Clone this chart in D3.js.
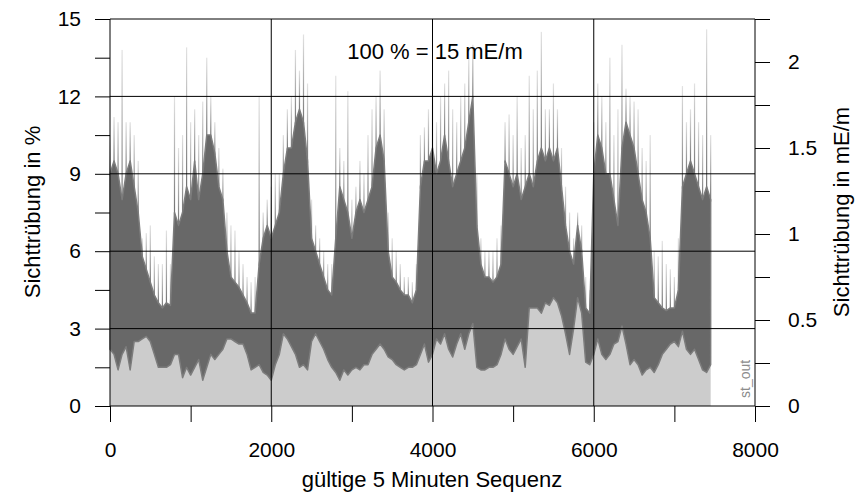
<!DOCTYPE html>
<html>
<head>
<meta charset="utf-8">
<script src="https://cdn.jsdelivr.net/npm/d3@7"></script>
<style>
  html, body { margin: 0; padding: 0; background: #fff; }
  svg { display: block; font-family: "Liberation Sans", Arial, sans-serif; }
</style>
</head>
<body>
<svg id="chart" width="858" height="498"></svg>
<script>
// Visibility obscuration (st_out), summarised in blocks of 50 valid 5-minute samples:
// lower envelope, upper envelope of the dense band, and the single highest spike.
const blockSize = 50;
const lowEnv = [
  2.2, 2.0, 1.4, 2.0, 2.3, 1.4, 2.5, 2.5, 2.6, 2.7,
  2.5, 2.0, 1.5, 1.5, 1.5, 1.6, 2.0, 2.0, 1.1, 1.5,
  1.2, 1.5, 1.8, 1.0, 1.5, 2.0, 1.8, 2.0, 2.2, 2.6,
  2.6, 2.5, 2.4, 2.4, 2.0, 1.4, 1.5, 1.6, 1.3, 1.2,
  1.0, 1.6, 2.0, 2.8, 2.6, 2.3, 2.0, 1.5, 1.6, 1.4,
  2.5, 2.8, 2.5, 2.2, 1.8, 1.5, 1.3, 1.0, 1.4, 1.2,
  1.4, 1.5, 1.4, 1.6, 1.6, 2.0, 2.2, 2.4, 2.2, 1.9,
  1.8, 1.6, 1.5, 1.4, 1.5, 1.5, 1.6, 2.0, 2.4, 1.7,
  2.0, 2.6, 2.4, 2.8, 2.2, 1.9, 2.4, 2.8, 2.2, 2.8,
  3.2, 1.5, 1.4, 1.4, 1.5, 1.5, 1.6, 2.0, 2.6, 2.2,
  2.0, 2.3, 2.6, 1.5, 3.8, 3.8, 3.8, 3.6, 4.0, 3.9,
  4.2, 4.0, 3.5, 2.8, 2.0, 3.0, 4.2, 3.6, 1.7, 1.6,
  2.0, 2.6, 2.0, 1.8, 2.0, 2.4, 2.5, 3.1, 2.4, 1.6,
  1.8, 1.6, 1.2, 1.4, 1.5, 1.3, 1.6, 2.0, 2.2, 2.4,
  2.5, 2.3, 2.9, 2.2, 2.0, 2.2, 1.8, 1.4, 1.3, 1.6
];
const highEnv = [
  9.0, 9.5, 9.0, 8.0, 9.0, 9.5, 8.5, 7.5, 5.8, 5.3,
  4.8, 4.3, 4.0, 3.8, 4.0, 3.9, 7.5, 7.0, 7.5, 8.5,
  8.0, 9.5, 8.0, 9.0, 10.5, 10.5, 9.8, 8.5, 8.0, 6.0,
  5.0, 4.8, 4.6, 4.3, 4.0, 3.6, 3.6, 5.5, 6.5, 7.0,
  6.5, 7.0, 7.5, 9.0, 10.0, 10.0, 11.0, 11.5, 11.0, 9.5,
  6.5, 6.0, 5.5, 5.0, 4.5, 4.3, 6.5, 8.5, 8.0, 7.5,
  6.5, 7.5, 8.0, 7.5, 8.0, 8.5, 10.0, 10.5, 9.5, 6.0,
  5.0, 4.8, 4.5, 4.3, 4.3, 4.0, 4.5, 8.5, 9.5, 9.5,
  10.0, 9.0, 9.5, 10.5, 9.5, 8.5, 9.0, 9.5, 10.0, 11.0,
  12.0, 7.0, 5.5, 5.0, 5.0, 4.8, 5.0, 5.5, 9.5, 9.0,
  8.5, 9.0, 8.0, 8.5, 9.0, 8.5, 9.5, 10.0, 9.5, 10.0,
  9.5, 10.0, 8.5, 7.0, 6.0, 5.5, 7.0, 6.0, 3.8, 3.6,
  9.0, 10.5, 10.0, 9.0, 9.0, 8.0, 7.0, 10.0, 11.0, 10.5,
  10.0, 9.0, 8.0, 7.5, 6.5, 4.2, 4.0, 3.8, 3.7, 3.8,
  3.8, 4.5, 8.5, 9.0, 9.5, 9.0, 8.5, 8.0, 8.5, 8.0
];
const peakEnv = [
  10.5, 11.2, 11.0, 13.8, 11.0, 11.0, 10.5, 9.5, 6.5, 6.7,
  7.0, 5.8, 5.5, 5.5, 6.8, 5.5, 12.0, 10.0, 10.5, 13.9,
  11.0, 11.5, 10.5, 11.8, 13.5, 12.0, 11.0, 10.0, 9.2, 7.5,
  7.0, 6.8, 6.0, 5.5, 5.0, 4.8, 5.0, 12.0, 7.5, 8.0,
  8.5, 9.0, 9.0, 10.5, 11.5, 12.0, 13.8, 13.0, 14.4, 12.5,
  8.0, 7.0, 6.5, 6.0, 5.5, 5.5, 12.8, 10.0, 9.5, 12.2,
  8.0, 8.5, 9.5, 9.0, 10.5, 11.5, 12.0, 13.0, 11.5, 7.5,
  6.5, 6.0, 5.5, 5.0, 5.0, 4.8, 5.5, 10.5, 10.8, 11.5,
  12.5, 11.0, 12.0, 12.5, 13.0, 11.5, 11.0, 12.0, 12.5, 13.5,
  14.0, 9.0, 6.5, 6.0, 6.0, 6.0, 6.5, 7.0, 11.0, 11.3,
  10.5, 12.0, 10.0, 10.5, 12.8, 11.5, 13.0, 14.5, 11.5, 11.5,
  12.5, 11.5, 10.0, 8.5, 7.5, 6.5, 7.5, 7.0, 5.0, 4.5,
  11.0, 12.5, 12.0, 11.0, 13.5, 10.5, 11.5, 14.0, 12.3, 12.0,
  11.8, 11.5, 10.0, 9.5, 10.5, 6.0, 5.8, 6.4, 5.5, 5.3,
  5.0, 6.5, 12.4, 11.0, 11.5, 12.5, 11.0, 10.5, 14.6, 10.5
];

// Axis ticks
const xMajorTicks = [0, 2000, 4000, 6000, 8000];
const xAllTicks = [0, 1000, 2000, 3000, 4000, 5000, 6000, 7000, 8000];
const yMajorTicks = [0, 3, 6, 9, 12, 15];
const yAllTicks = [0, 1.5, 3, 4.5, 6, 7.5, 9, 10.5, 12, 13.5, 15];
const rMajorTicks = [0, 0.5, 1, 1.5, 2];
const rAllTicks = [0, 0.25, 0.5, 0.75, 1, 1.25, 1.5, 1.75, 2, 2.25];

const fullScalePercent = 15;   // 100 % = 15 mE/m -> 15 % = 2.25 mE/m

const series = lowEnv.map((lo, i) => ({
  n: i * blockSize, lo, hi: highEnv[i], pk: peakEnv[i]
}));

const svg = d3.select("#chart");
const plotL = 110, plotR = 755, plotT = 19, plotB = 406;

const x = d3.scaleLinear().domain([0, 8000]).range([plotL, plotR]);
const y = d3.scaleLinear().domain([0, 15]).range([plotB, plotT]);
const yR = d3.scaleLinear().domain([0, fullScalePercent * 15 / 100]).range([plotB, plotT]);

// fading fill for the spikes: darker at the band, pale at the tip
const defs = svg.append("defs");
const fade = defs.append("linearGradient")
  .attr("id", "spikeFade")
  .attr("x1", 0).attr("y1", 1).attr("x2", 0).attr("y2", 0);
fade.append("stop").attr("offset", "0%").attr("stop-color", "#707070");
fade.append("stop").attr("offset", "45%").attr("stop-color", "#a8a8a8");
fade.append("stop").attr("offset", "100%").attr("stop-color", "#e2e2e2");

// light grey base: everything below the lower envelope
svg.append("path")
  .datum(series)
  .attr("fill", "#cccccc")
  .attr("d", d3.area().x(d => x(d.n)).y0(y(0)).y1(d => y(d.lo)));

// isolated spikes above the band
svg.append("g")
  .selectAll("rect")
  .data(series)
  .join("rect")
  .attr("x", d => x(d.n) - 0.6)
  .attr("width", 1.2)
  .attr("y", d => y(d.pk))
  .attr("height", d => y(d.hi) - y(d.pk) + 2)
  .attr("fill", "url(#spikeFade)");

// dense dark band between the envelopes
svg.append("path")
  .datum(series)
  .attr("fill", "#686868")
  .attr("stroke", "#7c7c7c")
  .attr("stroke-width", 1.5)
  .attr("stroke-linejoin", "round")
  .attr("d", d3.area().x(d => x(d.n)).y0(d => y(d.lo)).y1(d => y(d.hi)));

// grid
const grid = svg.append("g").attr("stroke", "#000").attr("stroke-width", 1);
grid.selectAll("line.h").data(yMajorTicks).join("line")
  .attr("class", "h")
  .attr("x1", plotL).attr("x2", plotR)
  .attr("y1", d => y(d)).attr("y2", d => y(d));
grid.selectAll("line.v").data(xMajorTicks).join("line")
  .attr("class", "v")
  .attr("x1", d => x(d)).attr("x2", d => x(d))
  .attr("y1", plotT).attr("y2", plotB);

function styleAxis(g) {
  g.select(".domain").remove();
  g.selectAll(".tick line").attr("stroke", "#000");
  g.selectAll(".tick text")
    .attr("fill", "#000")
    .attr("font-family", "'Liberation Sans', Arial, sans-serif")
    .attr("font-size", 21);
}

// left axis (percent)
svg.append("g")
  .attr("transform", `translate(${plotL},0)`)
  .call(d3.axisLeft(y).tickValues(yAllTicks).tickSize(15).tickPadding(14)
    .tickFormat(d => yMajorTicks.includes(d) ? d3.format("d")(d) : ""))
  .call(styleAxis);

// right axis (mE/m)
svg.append("g")
  .attr("transform", `translate(${plotR},0)`)
  .call(d3.axisRight(yR).tickValues(rAllTicks).tickSize(15).tickPadding(18)
    .tickFormat(d => rMajorTicks.includes(d) ? String(d) : ""))
  .call(styleAxis);

// bottom axis
svg.append("g")
  .attr("transform", `translate(0,${plotB})`)
  .call(d3.axisBottom(x).tickValues(xAllTicks).tickSize(16).tickPadding(20)
    .tickFormat(d => xMajorTicks.includes(d) ? String(d) : ""))
  .call(styleAxis);

// titles
svg.append("text")
  .attr("transform", "translate(40,212) rotate(-90)")
  .attr("text-anchor", "middle")
  .attr("font-size", 22)
  .text("Sichttrübung in %");

svg.append("text")
  .attr("transform", "translate(849,212) rotate(-90)")
  .attr("text-anchor", "middle")
  .attr("font-size", 22)
  .text("Sichttrübung in mE/m");

svg.append("text")
  .attr("x", 432).attr("y", 487)
  .attr("text-anchor", "middle")
  .attr("font-size", 22)
  .text("gültige 5 Minuten Sequenz");

svg.append("text")
  .attr("x", 435).attr("y", 59)
  .attr("text-anchor", "middle")
  .attr("font-size", 22)
  .text("100 % = 15 mE/m");

// series tag
svg.append("text")
  .attr("transform", "translate(750,398) rotate(-90)")
  .attr("font-size", 14)
  .attr("fill", "#8c8c8c")
  .text("st_out");
</script>
</body>
</html>
